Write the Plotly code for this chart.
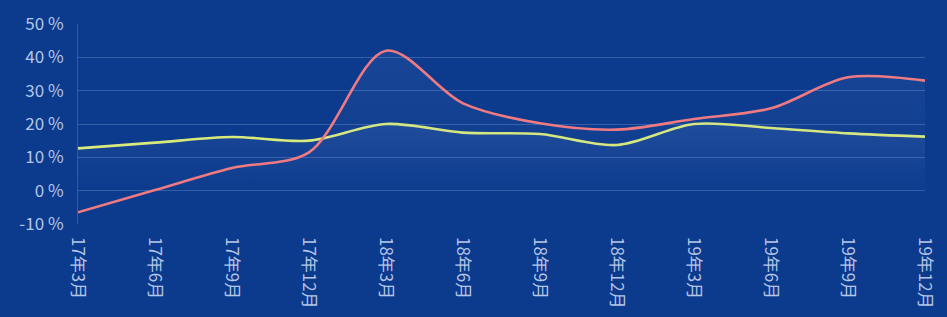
import plotly.graph_objects as go

categories = ["17年3月", "17年6月", "17年9月", "17年12月", "18年3月", "18年6月",
              "18年9月", "18年12月", "19年3月", "19年6月", "19年9月", "19年12月"]
red_values = [-6.5, 0.2, 6.8, 11.5, 42.0, 26.2, 20.2, 18.3, 21.5, 24.7, 34.0, 33.0]
yellow_values = [12.7, 14.4, 16.1, 15.0, 20.0, 17.4, 17.0, 13.7, 20.0, 18.8, 17.2, 16.2]
y_ticks = [-10, 0, 10, 20, 30, 40, 50]
y_tick_text = [f"{v} %" for v in y_ticks]

fig = go.Figure()

fig.add_trace(go.Scatter(
    x=categories, y=yellow_values, mode="lines",
    line=dict(color="#d9ea7c", width=2.6, shape="spline", smoothing=0.9),
    fill="tozeroy",
    fillgradient=dict(type="vertical",
                      colorscale=[[0, "rgba(130,165,230,0.0)"], [1, "rgba(130,165,230,0.12)"]]),
    hoverinfo="skip", showlegend=False,
))
fig.add_trace(go.Scatter(
    x=categories, y=red_values, mode="lines",
    line=dict(color="#f07a82", width=2.6, shape="spline", smoothing=0.9),
    fill="tozeroy",
    fillgradient=dict(type="vertical",
                      colorscale=[[0, "rgba(130,165,230,0.0)"], [1, "rgba(130,165,230,0.10)"]]),
    hoverinfo="skip", showlegend=False,
))

fig.update_layout(
    width=947, height=317,
    margin=dict(l=78, r=8, t=24, b=93),
    paper_bgcolor="#0c3a8c",
    plot_bgcolor="#0c3a8c",
    font=dict(family="Noto Sans CJK SC, Noto Sans, sans-serif", color="#b4c6e8"),
    xaxis=dict(
        type="category", range=[0, len(categories) - 1],
        showgrid=False, zeroline=False, showline=False,
        tickangle=90, tickfont=dict(size=17, color="#b4c6e8"),
        ticks="", ticklabelstandoff=12, ticklabeloverflow="allow",
    ),
    yaxis=dict(
        range=[-10, 50], tickvals=y_ticks, ticktext=y_tick_text,
        showgrid=True, gridcolor="rgba(160,190,240,0.28)", gridwidth=1,
        zeroline=False, showline=True, linecolor="rgba(160,190,240,0.25)",
        tickfont=dict(size=17, color="#b4c6e8"), ticks="", ticklabelstandoff=10,
    ),
)

fig.write_html("out.html", config={"displayModeBar": False},
               post_script="document.body.style.margin='0';")
